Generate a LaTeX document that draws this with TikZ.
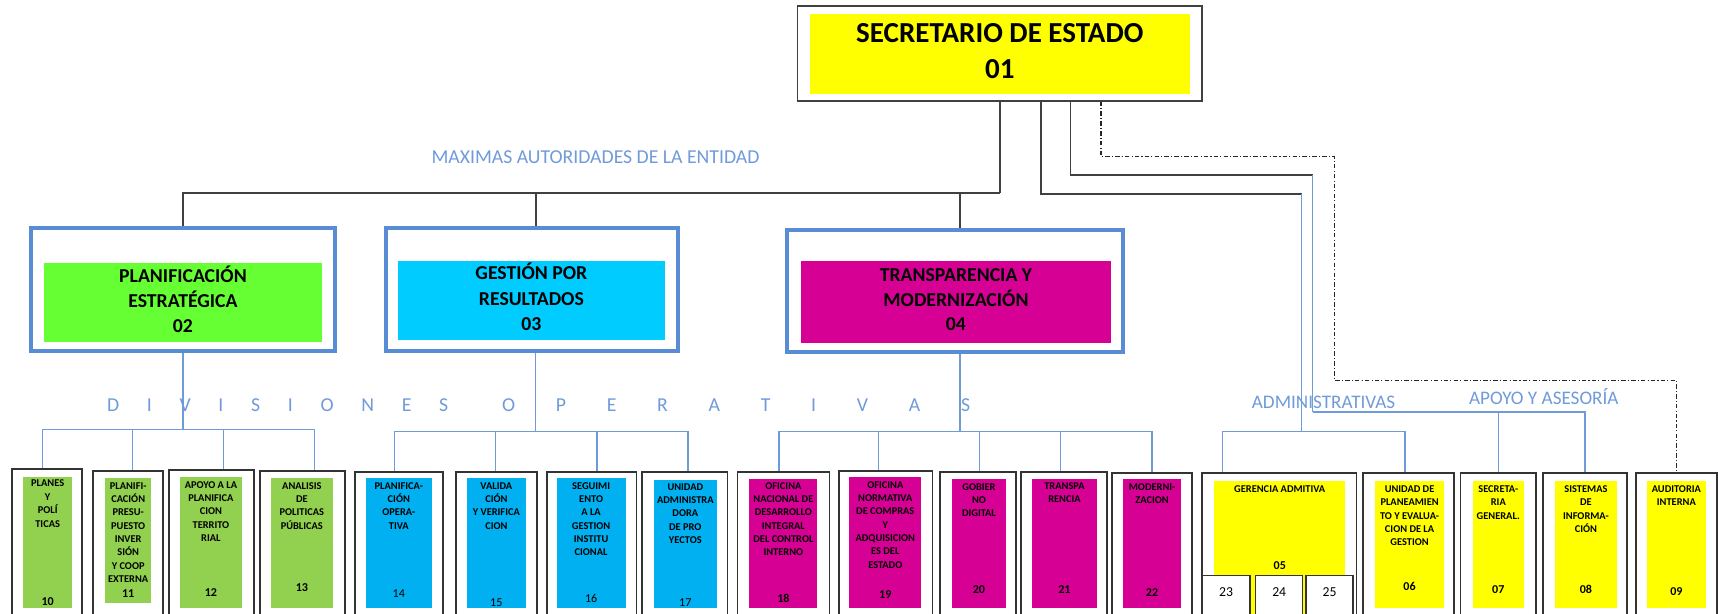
\documentclass[tikz,border=0pt]{standalone}
\usepackage{fontspec}
\setmainfont{Carlito}
\usetikzlibrary{fit}

\definecolor{amarillo}{RGB}{255,255,0}
\definecolor{verdevivo}{RGB}{102,255,51}
\definecolor{verde}{RGB}{146,208,80}
\definecolor{celestevivo}{RGB}{0,204,255}
\definecolor{celeste}{RGB}{0,176,240}
\definecolor{fucsia}{RGB}{214,0,148}
\definecolor{azul}{RGB}{88,140,212}
\definecolor{azulclaro}{RGB}{112,155,218}

\newcommand{\sepdiv}{\hspace{25.3pt}}
\newcommand{\sepope}{\hspace{37.2pt}}

\begin{document}
\begin{tikzpicture}[x=1pt, y=-1pt,
    marconegro/.style={rectangle, draw=black!75, line width=1.5pt, fill=white, inner sep=0pt},
    marcoazul/.style={rectangle, draw=azul, line width=3.5pt, fill=white, inner sep=0pt},
    marco/.style={rectangle, draw=black!80, line width=1.6pt, fill=white, inner sep=0pt},
    cajita/.style={rectangle, draw=black!80, line width=1.3pt, fill=white, inner sep=0pt},
    relleno/.style={rectangle, inner sep=0pt, align=center},
    titulo/.style={align=center, inner sep=0pt, font=\fontsize{26.5}{33}\selectfont\bfseries},
    subtitulo/.style={align=center, inner sep=0pt, font=\fontsize{18}{23}\selectfont\bfseries},
    texto/.style={anchor=north, align=center, inner sep=0pt, font=\fontsize{9.5}{12.2}\selectfont\bfseries},
    numero/.style={inner sep=0pt, font=\fontsize{11}{13}\selectfont\bfseries},
    etiqueta/.style={inner sep=0pt, text=azulclaro, font=\fontsize{18}{22}\selectfont},
    lineanegra/.style={draw=black!75, line width=1.5pt},
    lineaazul/.style={draw=azulclaro, line width=1.3pt},
    lineapunteada/.style={draw=black!85, line width=1.2pt, dash pattern=on 4pt off 2pt on 1pt off 2pt}
]
    \fill[white] (0,0) rectangle (1568,560);
    \useasboundingbox (0,0) rectangle (1568,560);

    % Secretario
    \node[marconegro, fit={(728,5.5) (1097,92)}] (secr) {};
    \node[relleno, fill=amarillo, fit={(739,13) (1086,86)}] (secri) {};
    \node[titulo] (secrt) at ([yshift=3pt]secri.center) {SECRETARIO DE ESTADO\\01};

    % Divisiones
    \node[marcoazul, fit={(28,208) (306,320)}] (f02) {};
    \node[relleno, fill=verdevivo, fit={(40,240) (294,312)}] (f02i) {};
    \node[subtitulo] (f02t) at ([yshift=3pt]f02i.center) {PLANIFICACIÓN\\ESTRATÉGICA\\02};
    \node[marcoazul, fit={(352,208) (619,320)}] (f03) {};
    \node[relleno, fill=celestevivo, fit={(363,238) (607,310)}] (f03i) {};
    \node[subtitulo] (f03t) at ([yshift=3pt]f03i.center) {GESTIÓN POR\\RESULTADOS\\03};
    \node[marcoazul, fit={(718,210) (1025,321)}] (f04) {};
    \node[relleno, fill=fucsia, fit={(731,238) (1014,313)}] (f04i) {};
    \node[subtitulo, font=\fontsize{18}{22}\selectfont\bfseries] (f04t) at ([yshift=2pt]f04i.center) {TRANSPARENCIA Y\\MODERNIZACIÓN\\04};

    % Textos
    \node[etiqueta] (maximas) at (543.5,143) {MAXIMAS AUTORIDADES DE LA ENTIDAD};
    \node[etiqueta, anchor=west] (divisiones) at (97.5,370) {D\sepdiv I\sepdiv V\sepdiv I\sepdiv S\sepdiv I\sepdiv O\sepdiv N\sepdiv E\sepdiv S};
    \node[etiqueta, anchor=west] (operativas) at (458,370) {O\sepope P\sepope E\sepope R\sepope A\sepope T\sepope I\sepope V\sepope A\sepope S};
    \node[etiqueta, font=\fontsize{17.5}{21}\selectfont] (administrativas) at (1208,367) {ADMINISTRATIVAS};
    \node[etiqueta, font=\fontsize{17.5}{21}\selectfont] (apoyo) at (1409,362) {APOYO Y ASESORÍA};

    % Unidades de planificacion
    \node[marco, fit={(11,428) (75,565)}] (b10) {};
    \node[relleno, fill=verde, fit={(21,435) (66,555)}] (i10) {};
    \node[texto] (t10) at (43.5,438) {PLANES\\Y\\POLÍ\\TICAS};
    \node[numero] (n10) at (43.5,549) {10};
    \node[marco, fit={(85,430) (149,565)}] (b11) {};
    \node[relleno, fill=verde, fit={(96,436) (138,550)}] (i11) {};
    \node[texto] (t11) at (117,440) {PLANIFI-\\CACIÓN\\PRESU-\\PUESTO\\INVER\\SIÓN\\Y COOP\\EXTERNA};
    \node[numero] (n11) at (117,542) {11};
    \node[marco, fit={(154,429) (232,565)}] (b12) {};
    \node[relleno, fill=verde, fit={(164,435) (221,555)}] (i12) {};
    \node[texto] (t12) at (192.5,439) {APOYO A LA\\PLANIFICA\\CION\\TERRITO\\RIAL};
    \node[numero] (n12) at (192.5,541) {12};
    \node[marco, fit={(237,430) (315,565)}] (b13) {};
    \node[relleno, fill=verde, fit={(247,436) (304,555)}] (i13) {};
    \node[texto] (t13) at (275.5,440) {ANALISIS\\DE\\POLITICAS\\PÚBLICAS};
    \node[numero] (n13) at (275.5,536) {13};

    % Unidades de gestion
    \node[marco, fit={(324,431) (404,565)}] (b14) {};
    \node[relleno, fill=celeste, fit={(334,436) (394,555)}] (i14) {};
    \node[texto] (t14) at (364,440) {PLANIFICA-\\CIÓN\\OPERA-\\TIVA};
    \node[numero, font=\fontsize{11}{13}\selectfont] (n14) at (364,542) {14};
    \node[marco, fit={(416,431) (490,565)}] (b15) {};
    \node[relleno, fill=celeste, fit={(426,436) (480,555)}] (i15) {};
    \node[texto] (t15) at (453,440) {VALIDA\\CIÓN\\Y VERIFICA\\CION};
    \node[numero, font=\fontsize{11}{13}\selectfont] (n15) at (453,550) {15};
    \node[marco, fit={(499,431) (581,565)}] (b16) {};
    \node[relleno, fill=celeste, fit={(508,436) (571,555)}] (i16) {};
    \node[texto] (t16) at (539.5,440) {SEGUIMI\\ENTO\\A LA\\GESTION\\INSTITU\\CIONAL};
    \node[numero, font=\fontsize{11}{13}\selectfont] (n16) at (539.5,546) {16};
    \node[marco, fit={(586,431) (664,565)}] (b17) {};
    \node[relleno, fill=celeste, fit={(597,438) (654,555)}] (i17) {};
    \node[texto] (t17) at (625.5,441) {UNIDAD\\ADMINISTRA\\DORA\\DE PRO\\YECTOS};
    \node[numero, font=\fontsize{11}{13}\selectfont] (n17) at (625.5,550) {17};

    % Unidades de transparencia
    \node[marco, fit={(673,431) (757,565)}] (b18) {};
    \node[relleno, fill=fucsia, fit={(684,437) (746,555)}] (i18) {};
    \node[texto] (t18) at (715,440) {OFICINA\\NACIONAL DE\\DESARROLLO\\INTEGRAL\\DEL CONTROL\\INTERNO};
    \node[numero] (n18) at (715,546) {18};
    \node[marco, fit={(766,430) (851,565)}] (b19) {};
    \node[relleno, fill=fucsia, fit={(775,435) (841,555)}] (i19) {};
    \node[texto] (t19) at (808,439) {OFICINA\\NORMATIVA\\DE COMPRAS\\Y\\ADQUISICION\\ES DEL\\ESTADO};
    \node[numero] (n19) at (808,543) {19};
    \node[marco, fit={(858,431) (927,565)}] (b20) {};
    \node[relleno, fill=fucsia, fit={(869,437) (918,555)}] (i20) {};
    \node[texto] (t20) at (893.5,441) {GOBIER\\NO\\DIGITAL};
    \node[numero] (n20) at (893.5,538) {20};
    \node[marco, fit={(932,431) (1010,565)}] (b21) {};
    \node[relleno, fill=fucsia, fit={(942,437) (1001,555)}] (i21) {};
    \node[texto] (t21) at (971.5,440) {TRANSPA\\RENCIA};
    \node[numero] (n21) at (971.5,538) {21};
    \node[marco, fit={(1015,432) (1088,565)}] (b22) {};
    \node[relleno, fill=fucsia, fit={(1025,437) (1078,555)}] (i22) {};
    \node[texto] (t22) at (1051.5,441) {MODERNI-\\ZACION};
    \node[numero] (n22) at (1051.5,541) {22};

    % Administrativas y apoyo
    \node[marco, fit={(1097,432) (1238,565)}] (b05) {};
    \node[relleno, fill=amarillo, fit={(1108,439) (1228,565)}] (i05) {};
    \node[texto] (t05) at (1168,443) {GERENCIA ADMITIVA};
    \node[numero] (n05) at (1168,516) {05};
    \node[cajita, fit={(1097,525) (1141,565)}] (s23) {};
    \node[inner sep=0pt, font=\fontsize{12.5}{14}\selectfont] (n23) at (1119,540) {23};
    \node[cajita, fit={(1146,525) (1189,565)}] (s24) {};
    \node[inner sep=0pt, font=\fontsize{12.5}{14}\selectfont] (n24) at (1167.5,540) {24};
    \node[cajita, fit={(1192,525) (1235,565)}] (s25) {};
    \node[inner sep=0pt, font=\fontsize{12.5}{14}\selectfont] (n25) at (1213.5,540) {25};
    \node[marco, fit={(1244,432) (1327,565)}] (b06) {};
    \node[relleno, fill=amarillo, fit={(1255,439) (1318,555)}] (i06) {};
    \node[texto] (t06) at (1286.5,443) {UNIDAD DE\\PLANEAMIEN\\TO Y EVALUA-\\CION DE LA\\GESTION};
    \node[numero] (n06) at (1286.5,535) {06};
    \node[marco, fit={(1333,432) (1402,565)}] (b07) {};
    \node[relleno, fill=amarillo, fit={(1344,439) (1391,555)}] (i07) {};
    \node[texto] (t07) at (1367.5,443) {SECRETA-\\RIA\\GENERAL.};
    \node[numero] (n07) at (1367.5,538) {07};
    \node[marco, fit={(1408,432) (1485,565)}] (b08) {};
    \node[relleno, fill=amarillo, fit={(1419,439) (1476,555)}] (i08) {};
    \node[texto] (t08) at (1447.5,443) {SISTEMAS\\DE\\INFORMA-\\CIÓN};
    \node[numero] (n08) at (1447.5,538) {08};
    \node[marco, fit={(1493,432) (1567,565)}] (b09) {};
    \node[relleno, fill=amarillo, fit={(1503,439) (1557,555)}] (i09) {};
    \node[texto] (t09) at (1530,443) {AUDITORIA\\INTERNA};
    \node[numero] (n09) at (1530,540) {09};

    % Lineas del secretario
    \coordinate (busT) at (912.5,176);
    \draw[lineanegra] (secr.south) -- (busT);
    \draw[lineanegra] (busT) -| (f02.north);
    \draw[lineanegra] (busT) -| ([xshift=3.5]f03.north);
    \draw[lineanegra] (busT) -| ([xshift=4.5]f04.north);

    \coordinate (adm) at (1188,177);
    \coordinate (busA) at (1188,394);
    \draw[lineanegra] ([xshift=37.5]secr.south) |- (adm);
    \draw[lineaazul] (adm) -- (busA);
    \draw[lineaazul] (busA) -| ([xshift=-52]b05.north);
    \draw[lineaazul] (busA) -| ([xshift=-3]b06.north);

    \coordinate (apo) at (1198,160);
    \coordinate (busB) at (1198,376);
    \draw[lineanegra] ([xshift=64.5]secr.south) |- (apo);
    \draw[lineaazul] (apo) -- (busB);
    \draw[lineaazul] (busB) -| (b07.north);
    \draw[lineaazul] (busB) -| (b08.north);

    \coordinate (dd1) at (1218,143);
    \coordinate (dd2) at (1218,347);
    \draw[lineapunteada] ([xshift=92.5]secr.south) |- (dd1) -- (dd2) -| (b09.north);

    % Lineas de las divisiones
    \coordinate (bus02) at (167,392);
    \draw[lineaazul] (f02.south) -- (bus02);
    \draw[lineaazul] (bus02) -| ([xshift=-4]b10.north);
    \draw[lineaazul] (bus02) -| ([xshift=4]b11.north);
    \draw[lineaazul] (bus02) -| ([xshift=11]b12.north);
    \draw[lineaazul] (bus02) -| ([xshift=11]b13.north);

    \coordinate (bus03) at (489,394);
    \draw[lineaazul] ([xshift=3.5]f03.south) -- (bus03);
    \draw[lineaazul] (bus03) -| ([xshift=-4]b14.north);
    \draw[lineaazul] (bus03) -| ([xshift=-1]b15.north);
    \draw[lineaazul] (bus03) -| ([xshift=5]b16.north);
    \draw[lineaazul] (bus03) -| ([xshift=3]b17.north);

    \coordinate (bus04) at (876,394);
    \draw[lineaazul] ([xshift=4.5]f04.south) -- (bus04);
    \draw[lineaazul] (bus04) -| ([xshift=-4]b18.north);
    \draw[lineaazul] (bus04) -| ([xshift=-6.5]b19.north);
    \draw[lineaazul] (bus04) -| ([xshift=1.5]b20.north);
    \draw[lineaazul] (bus04) -| ([xshift=-3]b21.north);
    \draw[lineaazul] (bus04) -| (b22.north);
\end{tikzpicture}
\end{document}
